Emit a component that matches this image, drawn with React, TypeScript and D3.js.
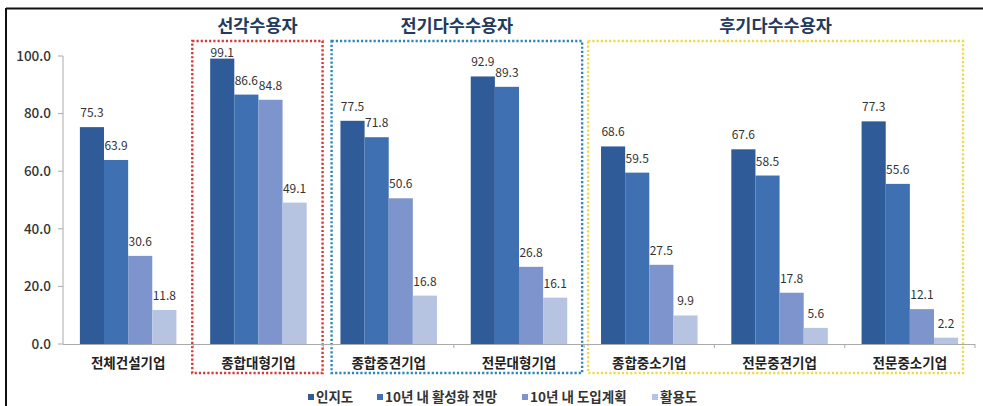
import React from "react";
import * as d3 from "d3";

const categories = ["전체건설기업", "종합대형기업", "종합중견기업", "전문대형기업", "종합중소기업", "전문중견기업", "전문중소기업"];
const seriesNames = ["인지도", "10년 내 활성화 전망", "10년 내 도입계획", "활용도"];
const awareness = [75.3, 99.1, 77.5, 92.9, 68.6, 67.6, 77.3];
const outlook = [63.9, 86.6, 71.8, 89.3, 59.5, 58.5, 55.6];
const plan = [30.6, 84.8, 50.6, 26.8, 27.5, 17.8, 12.1];
const usage = [11.8, 49.1, 16.8, 16.1, 9.9, 5.6, 2.2];
const yTicks = [0, 20, 40, 60, 80, 100];
const groups = [
  { title: "선각수용자", from: 1, to: 1, color: "#d8383a" },
  { title: "전기다수수용자", from: 2, to: 3, color: "#2f86b8" },
  { title: "후기다수수용자", from: 4, to: 6, color: "#efd94a" },
];

const colors = ["#2f5b98", "#3e70b2", "#7d95cc", "#b6c4e2"];
const FONT = "'Noto Sans CJK KR', 'Noto Sans', sans-serif";

export default function App() {
  const W = 983, H = 406;
  const x0 = 63, x1 = 975, yTop = 56, yBot = 344;
  const series = [awareness, outlook, plan, usage];
  const x = d3.scaleBand<string>().domain(categories).range([x0, x1]).paddingInner(0).paddingOuter(0);
  const xi = d3.scaleBand<number>().domain([0, 1, 2, 3]).range([0, x.bandwidth()]).paddingOuter(0.7).paddingInner(0);
  const y = d3.scaleLinear().domain([0, 100]).range([yBot, yTop]);
  const fmt = d3.format(".1f");
  const bw = x.bandwidth();

  const boxInsets: Record<string, [number, number]> = {
    "선각수용자": [-1, 1],
    "전기다수수용자": [8, 2],
    "후기다수수용자": [4, 12],
  };

  return (
    <svg width={W} height={H} style={{ position: "absolute", left: 0, top: 0, background: "#fff" }} fontFamily={FONT}>
      <rect x={0} y={0} width={W} height={H} fill="#fff" />
      <line x1={6} x2={W} y1={8.5} y2={8.5} stroke="#111" strokeWidth={2} />
      <line x1={6} x2={6} y1={8} y2={H} stroke="#111" strokeWidth={2} />

      {/* group boxes */}
      {groups.map((g) => {
        const [li, ri] = boxInsets[g.title];
        const bx0 = (x(categories[g.from]) as number) + li;
        const bx1 = (x(categories[g.to]) as number) + bw - ri;
        return (
          <g key={g.title}>
            <rect x={bx0} y={41} width={bx1 - bx0} height={332} fill="none" stroke={g.color} strokeWidth={2.4} strokeDasharray="2.2,2" />
            <text x={(bx0 + bx1) / 2} y={32} textAnchor="middle" fontSize={17.5} fontWeight={700} fill="#243a5c">{g.title}</text>
          </g>
        );
      })}

      {/* y axis */}
      <line x1={x0} x2={x0} y1={yTop} y2={yBot} stroke="#aaa" strokeWidth={1} />
      {yTicks.map((t) => (
        <g key={t}>
          <line x1={x0 - 5} x2={x0} y1={y(t)} y2={y(t)} stroke="#aaa" />
          <text x={51} y={y(t)} dy="0.35em" textAnchor="end" fontSize={13.5} fontWeight={500} fill="#333">{fmt(t)}</text>
        </g>
      ))}

      {/* bars */}
      {categories.map((c, ci) => (
        <g key={c} transform={`translate(${x(c)},0)`}>
          {series.map((s, si) => (
            <rect key={si} x={xi(si)} y={y(s[ci])} width={xi.bandwidth()} height={yBot - y(s[ci])} fill={colors[si]} />
          ))}
          {series.map((s, si) => (
            <text key={"l" + si} x={(xi(si) as number) + xi.bandwidth() / 2} y={Math.max(y(s[ci]) - 10, 57)} textAnchor="middle" fontSize={12} fill="#333">{fmt(s[ci])}</text>
          ))}
          <text x={bw / 2} y={368} textAnchor="middle" fontSize={13.5} fontWeight={700} fill="#222">{c}</text>
        </g>
      ))}

      {/* x axis */}
      <line x1={x0} x2={x1} y1={yBot + 0.5} y2={yBot + 0.5} stroke="#aaa" />
      {categories.map((c) => (
        <line key={c} x1={(x(c) as number) + bw} x2={(x(c) as number) + bw} y1={yBot} y2={yBot + 4} stroke="#aaa" />
      ))}

      {/* legend */}
      {seriesNames.map((n, i) => {
        const lx = [308, 377, 522, 652][i];
        return (
          <g key={n}>
            <rect x={lx} y={394} width={6} height={6} fill={colors[i]} />
            <text x={lx + 8} y={397} dy="0.35em" fontSize={13.5} fontWeight={700} fill="#333">{n}</text>
          </g>
        );
      })}
    </svg>
  );
}
